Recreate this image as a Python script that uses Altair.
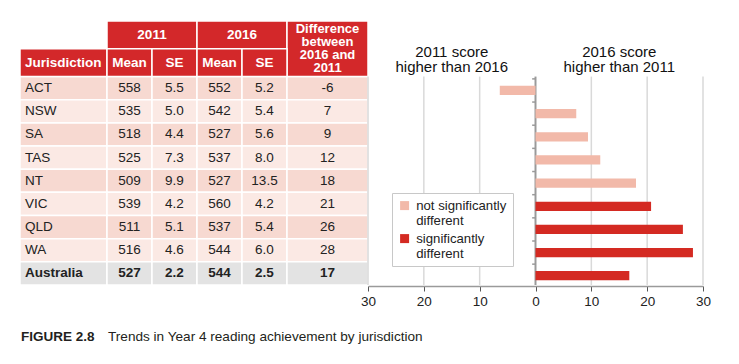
import altair as alt
import pandas as pd

# ---------------- data ----------------
jurisdictions = ["ACT", "NSW", "SA", "TAS", "NT", "VIC", "QLD", "WA", "Australia"]
mean_2011 = [558, 535, 518, 525, 509, 539, 511, 516, 527]
se_2011 = [5.5, 5.0, 4.4, 7.3, 9.9, 4.2, 5.1, 4.6, 2.2]
mean_2016 = [552, 542, 527, 537, 527, 560, 537, 544, 544]
se_2016 = [5.2, 5.4, 5.6, 8.0, 13.5, 4.2, 5.4, 6.0, 2.5]
difference = [-6, 7, 9, 12, 18, 21, 26, 28, 17]
bar_difference = [-6.4, 7.3, 9.4, 11.6, 18.0, 20.7, 26.4, 28.2, 16.8]
significant = [False, False, False, False, False, True, True, True, True]
axis_ticks = [-30, -20, -10, 0, 10, 20, 30]
grid_ticks = [-30, -20, -10, 10, 20, 30]
header_top = ["2011", "2016"]
header_sub = ["Jurisdiction", "Mean", "SE", "Mean", "SE"]
header_diff = "Difference\nbetween\n2016 and\n2011"
side_titles = ["2011 score\nhigher than 2016", "2016 score\nhigher than 2011"]
legend_labels = ["not significantly different", "significantly different"]

# ---------------- style / layout ----------------
FONT = "Liberation Sans"
RED = "#D3282A"
LIGHT_BAR = "#F2B9A9"
DARK_BAR = "#D42A22"
ROW_A = "#F7D9D1"
ROW_B = "#FBE9E4"
ROW_TOTAL = "#E3E3E3"
TEXT = "#222222"
col_widths = [87, 45, 45, 45, 45, 81]
edges = [0]
for w in col_widths:
    edges.append(edges[-1] + w)
HDR = 1.2  # header row height in row units
n = len(jurisdictions)

tscale = alt.Scale(domain=[0, edges[-1]], range=[12, 360], nice=False, zero=False)
yscale = alt.Scale(domain=[-2 * HDR, n], range=[13, 277], nice=False, zero=False)
bscale = alt.Scale(domain=[-30, 30], range=[360, 695], nice=False, zero=False)

# ---------------- table frames ----------------
cells = []
for i in range(n):
    if i == n - 1:
        fill = ROW_TOTAL
    else:
        fill = ROW_A if i % 2 == 0 else ROW_B
    for j in range(len(col_widths)):
        cells.append({"x0": edges[j], "x1": edges[j + 1], "y0": i, "y1": i + 1, "fill": fill})
cells_df = pd.DataFrame(cells)

hdr_cells = [
    {"x0": edges[1], "x1": edges[3], "y0": -2 * HDR, "y1": -HDR, "label": header_top[0], "kind": "c"},
    {"x0": edges[3], "x1": edges[5], "y0": -2 * HDR, "y1": -HDR, "label": header_top[1], "kind": "c"},
    {"x0": edges[5], "x1": edges[6], "y0": -2 * HDR, "y1": 0, "label": header_diff, "kind": "m"},
]
for j, lab in enumerate(header_sub):
    hdr_cells.append({"x0": edges[j], "x1": edges[j + 1], "y0": -HDR, "y1": 0, "label": lab,
                      "kind": "l" if j == 0 else "c"})
hdr_df = pd.DataFrame(hdr_cells)
hdr_df["tx"] = [(r.x0 + 5) if r.kind == "l" else (r.x0 + r.x1) / 2 for r in hdr_df.itertuples()]
hdr_df["ty"] = (hdr_df["y0"] + hdr_df["y1"]) / 2

body = []
for i in range(n):
    vals = [jurisdictions[i], str(mean_2011[i]), f"{se_2011[i]:.1f}", str(mean_2016[i]),
            f"{se_2016[i]:.1f}", str(difference[i])]
    for j, v in enumerate(vals):
        body.append({
            "label": v,
            "tx": edges[0] + 5 if j == 0 else (edges[j] + edges[j + 1]) / 2,
            "ty": i + 0.5,
            "left": j == 0,
            "total": i == n - 1,
        })
body_df = pd.DataFrame(body)

rects = alt.Chart(cells_df).mark_rect(stroke="white", strokeWidth=1.5).encode(
    x=alt.X("x0:Q", scale=tscale, axis=None), x2="x1:Q",
    y=alt.Y("y0:Q", scale=yscale, axis=None), y2="y1:Q",
    fill=alt.Fill("fill:N", scale=None),
)
hdr_rects = alt.Chart(hdr_df).mark_rect(stroke="white", strokeWidth=1.5, color=RED).encode(
    x=alt.X("x0:Q", scale=tscale, axis=None), x2="x1:Q",
    y=alt.Y("y0:Q", scale=yscale, axis=None), y2="y1:Q",
)


def table_text(df, align, bold, color, size=13.5, line_height=None, dy=0):
    kw = dict(font=FONT, fontSize=size, color=color, align=align, baseline="middle",
              fontWeight="bold" if bold else "normal", lineBreak="\n", dy=dy)
    if line_height:
        kw["lineHeight"] = line_height
    return alt.Chart(df).mark_text(**kw).encode(
        x=alt.X("tx:Q", scale=tscale, axis=None),
        y=alt.Y("ty:Q", scale=yscale, axis=None),
        text="label:N",
    )


hdr_center = table_text(hdr_df[hdr_df["kind"] == "c"], "center", True, "white")
hdr_multi = table_text(hdr_df[hdr_df["kind"] == "m"], "center", True, "white", 13, 13, -19.5)
hdr_left = table_text(hdr_df[hdr_df["kind"] == "l"], "left", True, "white")
body_left = table_text(body_df[body_df["left"] & ~body_df["total"]], "left", False, TEXT)
body_center = table_text(body_df[~body_df["left"] & ~body_df["total"]], "center", False, TEXT)
tot_left = table_text(body_df[body_df["left"] & body_df["total"]], "left", True, TEXT)
tot_center = table_text(body_df[~body_df["left"] & body_df["total"]], "center", True, TEXT)

# ---------------- bar chart ----------------
bars_df = pd.DataFrame({
    "jur": jurisdictions,
    "val": bar_difference,
    "zero": [0] * n,
    "sig": [legend_labels[1] if s else legend_labels[0] for s in significant],
    "y0": [i + 0.4 for i in range(n)],
    "y1": [i + 0.8 for i in range(n)],
})

grid_df = pd.DataFrame({"g": grid_ticks, "y0": [0] * len(grid_ticks), "y1": [n] * len(grid_ticks)})
grid = alt.Chart(grid_df).mark_rule(color="#D9D9D9", strokeWidth=1.5).encode(
    x=alt.X("g:Q", scale=bscale, axis=None),
    y=alt.Y("y0:Q", scale=yscale, axis=None), y2="y1:Q",
)

zero_df = pd.DataFrame({"z": [0], "y0": [0], "y1": [n]})
zero_line = alt.Chart(zero_df).mark_rule(color="#9A9A9A", strokeWidth=2).encode(
    x=alt.X("z:Q", scale=bscale, axis=None),
    y=alt.Y("y0:Q", scale=yscale, axis=None), y2="y1:Q",
)

tick_df = pd.DataFrame({"a": [-0.6] * n, "b": [0] * n, "y": [i + 0.1 for i in range(n)]})
row_ticks = alt.Chart(tick_df).mark_rule(color="#9A9A9A", strokeWidth=1.5).encode(
    x=alt.X("a:Q", scale=bscale, axis=None), x2="b:Q",
    y=alt.Y("y:Q", scale=yscale, axis=None),
)

bars = alt.Chart(bars_df).mark_bar().encode(
    x=alt.X("val:Q", scale=bscale,
            axis=alt.Axis(orient="bottom", values=axis_ticks, labelExpr="abs(datum.value)",
                          grid=False, domainColor="#9A9A9A", domainWidth=1.5,
                          tickColor="#555555", tickSize=5, tickWidth=1,
                          labelFont=FONT, labelFontSize=13.5, labelColor=TEXT,
                          labelPadding=3, labelFlush=False, labelOverlap=False,
                          labelBound=False, title=None)),
    x2="zero:Q",
    y=alt.Y("y0:Q", scale=yscale, axis=None), y2="y1:Q",
    color=alt.Color("sig:N",
                    scale=alt.Scale(domain=legend_labels, range=[LIGHT_BAR, DARK_BAR]),
                    legend=alt.Legend(
                        orient="none", legendX=384, legendY=185, title=None,
                        fillColor="white", strokeColor="#C8C8C8", padding=6,
                        symbolType="square", symbolSize=81, symbolStrokeWidth=0,
                        labelFont=FONT, labelFontSize=13.2, labelColor=TEXT,
                        labelLimit=0, labelOffset=5, rowPadding=4,
                        labelExpr="datum.label == 'significantly different' ? "
                                  "['significantly', 'different'] : ['not significantly', 'different']",
                    )),
)

titles_df = pd.DataFrame({"x": [-15, 15], "y": [-0.74, -0.74], "label": side_titles})
side_title = alt.Chart(titles_df).mark_text(
    font=FONT, fontSize=15, color="#111111", align="center", baseline="middle",
    lineBreak="\n", lineHeight=15, dy=-7.5,
).encode(
    x=alt.X("x:Q", scale=bscale, axis=None),
    y=alt.Y("y:Q", scale=yscale, axis=None),
    text="label:N",
)

# ---------------- caption ----------------
cap1 = alt.Chart(pd.DataFrame({"t": ["FIGURE 2.8"]})).mark_text(
    font=FONT, fontSize=13.5, fontWeight="bold", color="#231F20", align="left", baseline="middle",
).encode(x=alt.value(13), y=alt.value(329), text="t:N")
cap2 = alt.Chart(pd.DataFrame({"t": ["Trends in Year 4 reading achievement by jurisdiction"]})).mark_text(
    font=FONT, fontSize=13.6, color="#231F20", align="left", baseline="middle",
).encode(x=alt.value(100), y=alt.value(329), text="t:N")

chart = alt.layer(
    rects, hdr_rects, hdr_center, hdr_multi, hdr_left, body_left, body_center, tot_left, tot_center,
    grid, zero_line, row_ticks, bars, side_title, cap1, cap2,
).resolve_scale(x="independent").properties(
    width=715, height=278,
    autosize=alt.AutoSizeParams(type="none"),
    padding={"left": 0, "top": 0, "right": 0, "bottom": 70},
).configure_view(stroke=None)

chart.save("out.html", embed_options={"renderer": "svg", "actions": False})
